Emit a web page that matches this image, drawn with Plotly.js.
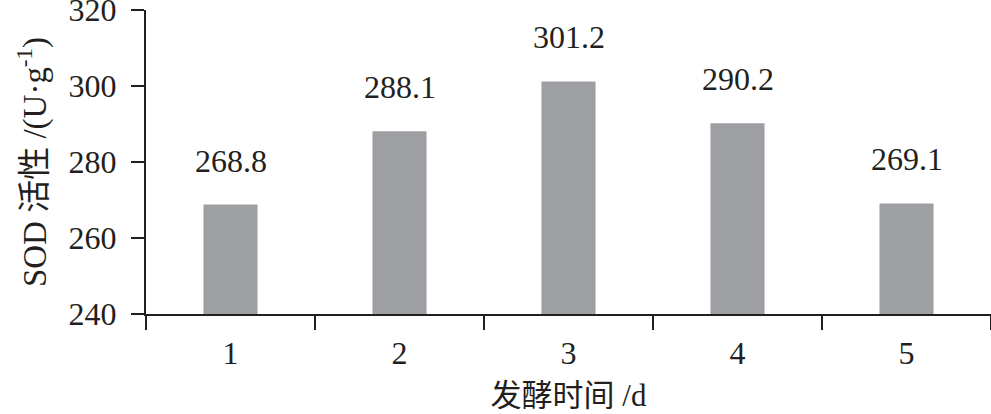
<!DOCTYPE html>
<html>
<head>
<meta charset="utf-8">
<script src="https://cdn.plot.ly/plotly-3.0.1.min.js"></script>
<style>
  html, body { margin: 0; padding: 0; background: #fff; }
  #chart { width: 991px; height: 414px; }
</style>
</head>
<body>
<div id="chart"></div>
<script>
// fermentation days and SOD activity
var days = ['1', '2', '3', '4', '5'];
var sodValues = [268.8, 288.1, 301.2, 290.2, 269.1];
var valueLabels = ['268.8', '288.1', '301.2', '290.2', '269.1'];
var yTicks = [240, 260, 280, 300, 320];

var FONT = 'Liberation Serif, Times New Roman, Noto Sans CJK SC, serif';

var trace = {
  x: days,
  y: sodValues,
  type: 'bar',
  marker: { color: '#9e9fa3', line: { width: 0 } },
  hoverinfo: 'x+y'
};

// value labels sit a little above each bar (x given as category index)
var labels = days.map(function (d, i) {
  return {
    xref: 'x',
    yref: 'y',
    x: i,
    y: sodValues[i],
    text: valueLabels[i],
    showarrow: false,
    yanchor: 'bottom',
    yshift: 24,
    font: { family: FONT, size: 32, color: '#231f20' }
  };
});

var layout = {
  width: 991,
  height: 414,
  margin: { l: 146, r: 0, t: 10, b: 100 },
  paper_bgcolor: '#ffffff',
  plot_bgcolor: '#ffffff',
  font: { family: FONT, size: 32, color: '#231f20' },
  bargap: 0.68,
  showlegend: false,
  xaxis: {
    type: 'category',
    range: [-0.5, 4.5],
    showline: true,
    linecolor: '#231f20',
    linewidth: 2,
    ticks: 'outside',
    tickson: 'boundaries',
    ticklen: 14,
    tickwidth: 2,
    tickcolor: '#231f20',
    ticklabelstandoff: 10,
    ticklabeloverflow: 'allow',
    showgrid: false,
    zeroline: false,
    title: {
      text: '发酵时间 /d',
      font: { family: FONT, size: 31, color: '#231f20' },
      standoff: 14
    }
  },
  yaxis: {
    range: [240, 320],
    tickvals: yTicks,
    ticktext: yTicks.map(String),
    showline: true,
    linecolor: '#231f20',
    linewidth: 2,
    ticks: 'outside',
    ticklen: 13,
    tickwidth: 2,
    tickcolor: '#231f20',
    ticklabelstandoff: 8,
    ticklabeloverflow: 'allow',
    showgrid: false,
    zeroline: false,
    title: {
      text: 'SOD 活性 /(U·g<sup>-1</sup>)',
      font: { family: FONT, size: 33, color: '#231f20' },
      standoff: 12
    }
  },
  annotations: labels
};

Plotly.newPlot('chart', [trace], layout, { displayModeBar: false, staticPlot: true });
</script>
</body>
</html>
